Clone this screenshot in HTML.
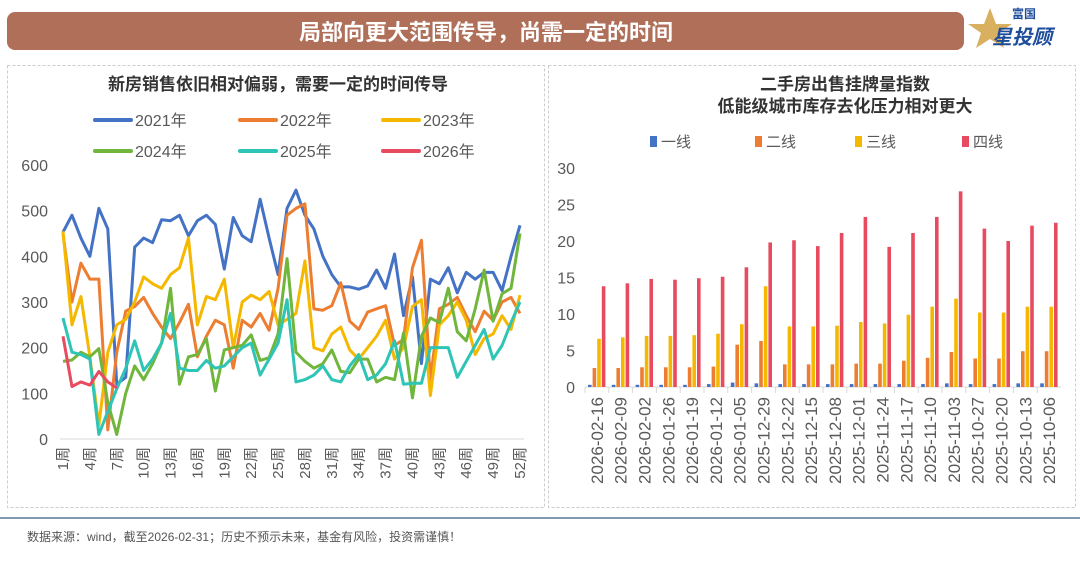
<!DOCTYPE html>
<html><head><meta charset="utf-8"><style>
body{margin:0;width:1080px;height:565px;background:#fff;overflow:hidden;font-family:"Liberation Sans","Noto Sans CJK SC",sans-serif}
svg text{font-family:"Liberation Sans","Noto Sans CJK SC",sans-serif}
</style></head><body>
<svg id="s" width="1080" height="565" viewBox="0 0 1080 565">
<rect x="7" y="12" width="957" height="38" rx="8" fill="#b06f58"/>
<text x="486" y="40" text-anchor="middle" font-size="22" font-weight="bold" fill="#fff">局部向更大范围传导，尚需一定的时间</text>
<g>
<polygon points="990,8 996,24 1012,24 999,33 1004,48 990,39 976,48 981,33 968,24 984,24" fill="#d8b060"/>
<text x="1012" y="18" font-size="12" font-weight="bold" fill="#1d4c9c">富国</text>
<text x="992" y="44" font-size="20" font-weight="bold" fill="#1d4c9c" font-style="italic">星投顾</text>
</g>
<rect x="7.5" y="65.5" width="537" height="442" fill="none" stroke="#ccc" stroke-dasharray="3,2"/>
<rect x="548.5" y="65.5" width="527" height="442" fill="none" stroke="#ccc" stroke-dasharray="3,2"/>
<line x1="0" y1="518" x2="1080" y2="518" stroke="#7f99b5" stroke-width="2"/>
<text x="27" y="541" font-size="12" fill="#555">数据来源：wind，截至2026-02-31；历史不预示未来，基金有风险，投资需谨慎！</text>
<text x="278" y="90" text-anchor="middle" font-size="17" font-weight="bold" fill="#333">新房销售依旧相对偏弱，需要一定的时间传导</text>
<text x="845" y="90" text-anchor="middle" font-size="17" font-weight="bold" fill="#333">二手房出售挂牌量指数</text>
<text x="845" y="112" text-anchor="middle" font-size="17" font-weight="bold" fill="#333">低能级城市库存去化压力相对更大</text>
<g id="L"></g><g id="R"></g>
</svg>
<script>
const weeks=[];for(let i=1;i<=52;i++)weeks.push(i+'周');
const years=['2021年','2022年','2023年','2024年','2025年','2026年'];
const yearColors=['#4472c4','#ed7d31','#f5b800','#70b63c','#2ec4b6','#e84a5f'];
const s2021=[453,490,440,400,505,460,120,135,420,440,430,480,478,490,445,478,490,470,372,485,445,432,525,440,360,505,545,490,460,400,360,333,333,328,335,370,330,405,270,355,165,350,340,375,320,365,350,365,365,325,400,468];
const s2022=[450,300,385,350,350,20,190,280,290,310,275,245,220,255,295,180,225,260,250,155,260,245,275,238,330,490,505,515,285,282,292,342,258,240,278,285,292,205,218,375,435,130,285,295,310,270,235,280,260,300,310,275];
const s2023=[455,250,312,180,30,190,250,262,300,355,340,330,360,375,440,250,312,305,350,200,300,315,305,323,250,262,275,390,200,193,230,245,195,175,200,225,260,175,200,290,305,95,250,270,300,260,185,220,230,270,240,315];
const s2024=[170,173,190,180,198,80,10,100,160,130,165,210,330,120,180,185,220,105,195,200,205,228,172,178,230,395,190,170,155,165,195,148,145,175,175,125,135,130,232,90,225,265,255,330,235,215,285,370,258,318,330,450];
const s2025=[265,190,185,175,10,60,110,155,215,150,175,210,275,155,150,150,172,155,160,180,200,210,140,175,210,305,125,130,140,160,130,125,160,185,130,140,165,215,120,122,122,200,200,200,135,170,205,240,175,205,255,300];
const s2026=[225,115,125,118,148,125,112];
const yTicksL=[0,100,200,300,400,500,600];
const seriesL=[s2021,s2022,s2023,s2024,s2025,s2026];
const NS='http://www.w3.org/2000/svg';
function mk(p,t,a,txt){const e=document.createElementNS(NS,t);for(const k in a)e.setAttribute(k,a[k]);if(txt!=null)e.textContent=txt;p.appendChild(e);return e;}
const L=document.getElementById('L');
const lx=i=>63+i*(520-63)/51, ly=v=>439-v*(439-165)/600;
mk(L,'line',{x1:60,y1:439,x2:524,y2:439,stroke:'#d9d9d9','stroke-width':1});
yTicksL.forEach(t=>{const e=mk(L,'text',{x:48,y:ly(t)+6,'text-anchor':'end','font-size':16,fill:'#595959'},t);

});
weeks.forEach((w,i)=>{if(i%3)return;const x=lx(i);const e=mk(L,'text',{x:0,y:0,transform:`translate(${x+5},${447}) rotate(-90)`,'text-anchor':'end','font-size':15,fill:'#595959'},w);

});
seriesL.forEach((d,k)=>{const p=mk(L,'polyline',{points:d.map((v,i)=>lx(i)+','+ly(v)).join(' '),fill:'none',stroke:yearColors[k],'stroke-width':3,'stroke-linejoin':'round'});

});
const legPos=[[95,120],[240,120],[383,120],[95,151],[240,151],[383,151]];
years.forEach((y,k)=>{const [x,yy]=legPos[k];const g=mk(L,'g',{});


mk(g,'line',{x1:x,y1:yy,x2:x+36,y2:yy,stroke:yearColors[k],'stroke-width':4,'stroke-linecap':'round'});
mk(g,'text',{x:x+40,y:yy+6,'font-size':16,fill:'#595959'},y);});

const dates=['2026-02-16','2026-02-09','2026-02-02','2026-01-26','2026-01-19','2026-01-12','2026-01-05','2025-12-29','2025-12-22','2025-12-15','2025-12-08','2025-12-01','2025-11-24','2025-11-17','2025-11-10','2025-11-03','2025-10-27','2025-10-20','2025-10-13','2025-10-06'];
const tier1=[0.3,0.3,0.3,0.3,0.3,0.4,0.6,0.5,0.4,0.4,0.4,0.4,0.4,0.4,0.4,0.5,0.4,0.4,0.5,0.5];
const tier2=[2.6,2.6,2.7,2.7,2.7,2.8,5.8,6.3,3.1,3.1,3.1,3.2,3.2,3.6,4.0,4.8,3.9,3.9,4.9,4.9];
const tier3=[6.6,6.8,7.0,7.0,7.1,7.3,8.6,13.8,8.3,8.3,8.4,8.9,8.7,9.9,11.0,12.1,10.2,10.2,11.0,11.0];
const tier4=[13.8,14.2,14.8,14.7,14.9,15.1,16.4,19.8,20.1,19.3,21.1,23.3,19.2,21.1,23.3,26.8,21.7,20.0,22.1,22.5];
const tierNames=['一线','二线','三线','四线'];
const tierColors=['#4472c4','#ed7d31','#f5b800','#e84a5f'];
const yTicksR=[0,5,10,15,20,25,30];
const R=document.getElementById('R');
const bw=(1061-585)/20, rx=i=>585+i*bw, ry=v=>387-v*(387-168)/30;
mk(R,'line',{x1:585,y1:387,x2:1061,y2:387,stroke:'#d9d9d9','stroke-width':1});
yTicksR.forEach(t=>{const e=mk(R,'text',{x:575,y:ry(t)+6,'text-anchor':'end','font-size':16,fill:'#595959'},t);

});
dates.forEach((d,i)=>{mk(R,'line',{x1:rx(i),y1:387,x2:rx(i),y2:393,stroke:'#d9d9d9'});
const e=mk(R,'text',{x:0,y:0,transform:`translate(${rx(i)+bw/2+6},${397}) rotate(-90)`,'text-anchor':'end','font-size':17,fill:'#595959'},d);

});
[tier1,tier2,tier3,tier4].forEach((d,k)=>d.forEach((v,i)=>{const x=rx(i)+3+k*4.6;const b=mk(R,'rect',{x:x,y:ry(v),width:3.6,height:387-ry(v),fill:tierColors[k]});

}));
const lgx=[650,755,855,962];
tierNames.forEach((n,k)=>{const g=mk(R,'g',{});


mk(g,'rect',{x:lgx[k],y:136,width:7,height:11,fill:tierColors[k]});
mk(g,'text',{x:lgx[k]+11,y:147,'font-size':15,fill:'#595959'},n);});
</script>
</body></html>
